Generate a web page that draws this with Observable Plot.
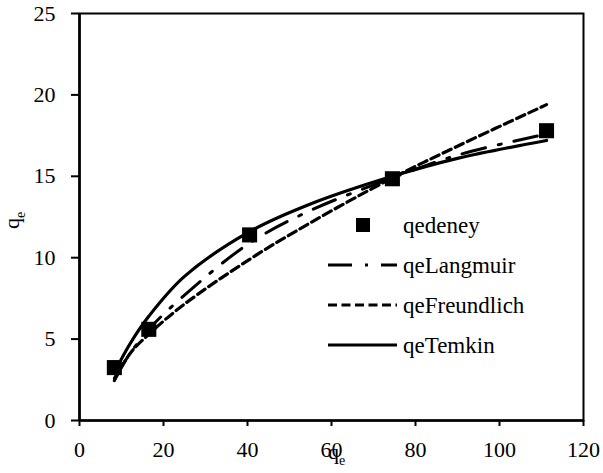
<!DOCTYPE html>
<html>
<head>
<meta charset="utf-8">
<script src="https://cdn.jsdelivr.net/npm/d3@7"></script>
<script src="https://cdn.jsdelivr.net/npm/@observablehq/plot@0.6"></script>
<style>
  html, body { margin: 0; padding: 0; background: #fff; }
  #chart svg { display: block; }
</style>
</head>
<body>
<div id="chart"></div>
<script>
// Measured equilibrium data: Ce (x) and qe (y)
const ce = [8.3, 16.5, 40.5, 74.5, 111.2];
const qeDeney = [3.25, 5.6, 11.4, 14.85, 17.8];

// Isotherm model curves sampled along Ce
const ceFit = [8.3, 12, 16.5, 25, 40.5, 55, 74.5, 90, 111.2];
const qeLangmuir = [2.6, 4.1, 5.6, 7.7, 10.9, 12.9, 14.9, 16.3, 17.6];
const qeFreundlich = [2.45, 4.1, 5.3, 7.15, 9.9, 12.15, 14.9, 16.85, 19.4];
const qeTemkin = [2.95, 4.7, 6.4, 8.85, 11.6, 13.3, 15.0, 16.1, 17.2];

const xTicks = [0, 20, 40, 60, 80, 100, 120];
const yTicks = [0, 5, 10, 15, 20, 25];

const seriesNames = ["qedeney", "qeLangmuir", "qeFreundlich", "qeTemkin"];

const points = ce.map((c, i) => ({c, q: qeDeney[i]}));
const fitRows = (vals) => ceFit.map((c, i) => ({c, q: vals[i]}));

const styles = {
  qeLangmuir: {dash: "24,13,3,13", width: 3},
  qeFreundlich: {dash: "9,4.5", width: 3.2},
  qeTemkin: {dash: null, width: 3.2}
};

const font = "'Liberation Serif', 'Times New Roman', serif";

const chart = Plot.plot({
  width: 603,
  height: 473,
  marginLeft: 79,
  marginRight: 20,
  marginTop: 13,
  marginBottom: 53,
  style: {fontFamily: font, fontSize: "22px", color: "#000", background: "#fff", overflow: "visible"},
  x: {domain: [0, 120]},
  y: {domain: [0, 25]},
  marks: [
    Plot.frame({stroke: "#000", strokeWidth: 2}),
    Plot.axisX({ticks: xTicks, tickSize: 6, tickPadding: 15, strokeWidth: 2, label: null, tickFormat: d => String(d)}),
    Plot.axisY({ticks: yTicks, tickSize: 8, tickPadding: 16, strokeWidth: 2, label: null, tickFormat: d => String(d)}),
    Plot.ruleX([0], {stroke: "#000", strokeWidth: 2.6}),
    Plot.ruleY([0], {stroke: "#000", strokeWidth: 2.6}),
    Plot.line(fitRows(qeFreundlich), {x: "c", y: "q", curve: "catmull-rom", stroke: "#000",
      strokeWidth: styles.qeFreundlich.width, strokeDasharray: styles.qeFreundlich.dash}),
    Plot.line(fitRows(qeLangmuir), {x: "c", y: "q", curve: "catmull-rom", stroke: "#000",
      strokeWidth: styles.qeLangmuir.width, strokeDasharray: styles.qeLangmuir.dash}),
    Plot.line(fitRows(qeTemkin), {x: "c", y: "q", curve: "catmull-rom", stroke: "#000",
      strokeWidth: styles.qeTemkin.width}),
    Plot.dot(points, {x: "c", y: "q", symbol: "square", r: 8.5, fill: "#000", stroke: "none"})
  ]
});

document.getElementById("chart").appendChild(chart);

const svg = d3.select(chart);

// Serif face for the tick labels as well
svg.selectAll("text").attr("font-family", font).attr("fill", "#000");

// Axis titles with subscript e
const xTitle = svg.append("text")
  .attr("x", 328).attr("y", 459)
  .attr("text-anchor", "start")
  .attr("font-family", font).attr("font-size", 22).attr("fill", "#000");
xTitle.append("tspan").text("q");
xTitle.append("tspan").attr("font-size", 14).attr("dy", 6).text("e");

const yTitle = svg.append("text")
  .attr("transform", "translate(19,229) rotate(-90)")
  .attr("text-anchor", "start")
  .attr("font-family", font).attr("font-size", 22).attr("fill", "#000");
yTitle.append("tspan").text("q");
yTitle.append("tspan").attr("font-size", 14).attr("dy", 6).text("e");

// Legend
const legend = svg.append("g").attr("text-anchor", "start");
const rowY = [225, 265, 305, 345];
seriesNames.forEach((name, i) => {
  const y = rowY[i];
  if (name === "qedeney") {
    legend.append("rect").attr("x", 356).attr("y", y - 7).attr("width", 14).attr("height", 14).attr("fill", "#000");
  } else {
    const s = styles[name];
    legend.append("line")
      .attr("x1", 328).attr("x2", 397).attr("y1", y).attr("y2", y)
      .attr("stroke", "#000").attr("stroke-width", s.width)
      .attr("stroke-dasharray", s.dash);
  }
  legend.append("text")
    .attr("x", 403).attr("y", y + 8)
    .attr("font-family", font).attr("font-size", 23).attr("fill", "#000")
    .text(name);
});
</script>
</body>
</html>
